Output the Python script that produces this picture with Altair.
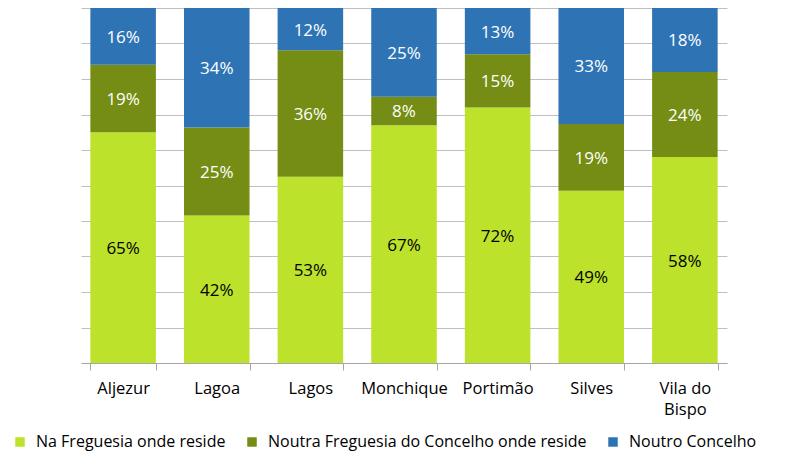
import altair as alt
import pandas as pd

categories = ["Aljezur", "Lagoa", "Lagos", "Monchique", "Portimão", "Silves", "Vila do Bispo"]
series = ["Na Freguesia onde reside", "Noutra Freguesia do Concelho onde reside", "Noutro Concelho"]
na_freguesia = [65, 42, 53, 67, 72, 49, 58]
noutra_freguesia = [19, 25, 36, 8, 15, 19, 24]
noutro_concelho = [16, 34, 12, 25, 13, 33, 18]
grid_values = [0, 0.1, 0.2, 0.3, 0.4, 0.5, 0.6, 0.7, 0.8, 0.9, 1.0]
colors = ["#BDE22B", "#758D14", "#2E74B5"]
text_colors = ["#000000", "#FFFFFF", "#FFFFFF"]

rows = []
for s_i, (s, vals) in enumerate(zip(series, [na_freguesia, noutra_freguesia, noutro_concelho])):
    for c, v in zip(categories, vals):
        rows.append({"cat": c, "serie": s, "value": v, "ord": s_i, "label": f"{v}%"})
df = pd.DataFrame(rows)

FONT = "Open Sans"

base = alt.Chart(df).transform_stack(
    stack="value", groupby=["cat"], as_=["y0", "y1"], offset="normalize",
    sort=[alt.SortField("ord", order="ascending")]
).transform_calculate(mid="(datum.y0 + datum.y1) / 2")

xaxis = alt.Axis(labelAngle=0, labelFont=FONT, labelFontSize=16.5, labelColor="#000000",
                 domainColor="#A6A6A6", tickColor="#A6A6A6", tickSize=7, tickBand="extent",
                 labelPadding=10, labelLineHeight=21, grid=False,
                 labelExpr="datum.value == 'Vila do Bispo' ? ['Vila do', 'Bispo'] : datum.value")
yaxis = alt.Axis(labels=False, ticks=False, domain=False, grid=True, gridColor="#BFBFBF",
                 gridWidth=1, values=grid_values, title=None)
yscale = alt.Scale(domain=[0, 1], nice=False)
xscale = alt.Scale(paddingInner=0.3, paddingOuter=0.1)

bars = base.mark_bar().encode(
    x=alt.X("cat:N", sort=categories, title=None, scale=xscale, axis=xaxis),
    y=alt.Y("y0:Q", scale=yscale, title=None, axis=yaxis),
    y2="y1:Q",
    color=alt.Color("serie:N", sort=series, scale=alt.Scale(domain=series, range=colors),
                    legend=alt.Legend(title=None, orient="none", direction="horizontal",
                                      legendX=-69, legendY=426, symbolType="square", symbolSize=90,
                                      symbolStrokeWidth=0, labelFont=FONT, labelFontSize=16,
                                      labelColor="#000000", columnPadding=18, labelOffset=8,
                                      labelLimit=500)),
)

texts = base.mark_text(font=FONT, fontSize=17, dy=1.5).encode(
    x=alt.X("cat:N", sort=categories, title=None, scale=xscale, axis=xaxis),
    y=alt.Y("mid:Q", scale=yscale, title=None, axis=yaxis),
    text="label:N",
    color=alt.Color("serie:N", sort=series, scale=alt.Scale(domain=series, range=text_colors), legend=None),
)

chart = alt.layer(bars, texts).resolve_scale(color="independent").properties(
    width=646, height=355,
    autosize=alt.AutoSizeParams(type="none"),
    padding={"left": 73, "top": 0, "right": 59, "bottom": 88},
).configure_view(stroke=None)

chart.save("out.html", embed_options={"renderer": "svg", "actions": False})
